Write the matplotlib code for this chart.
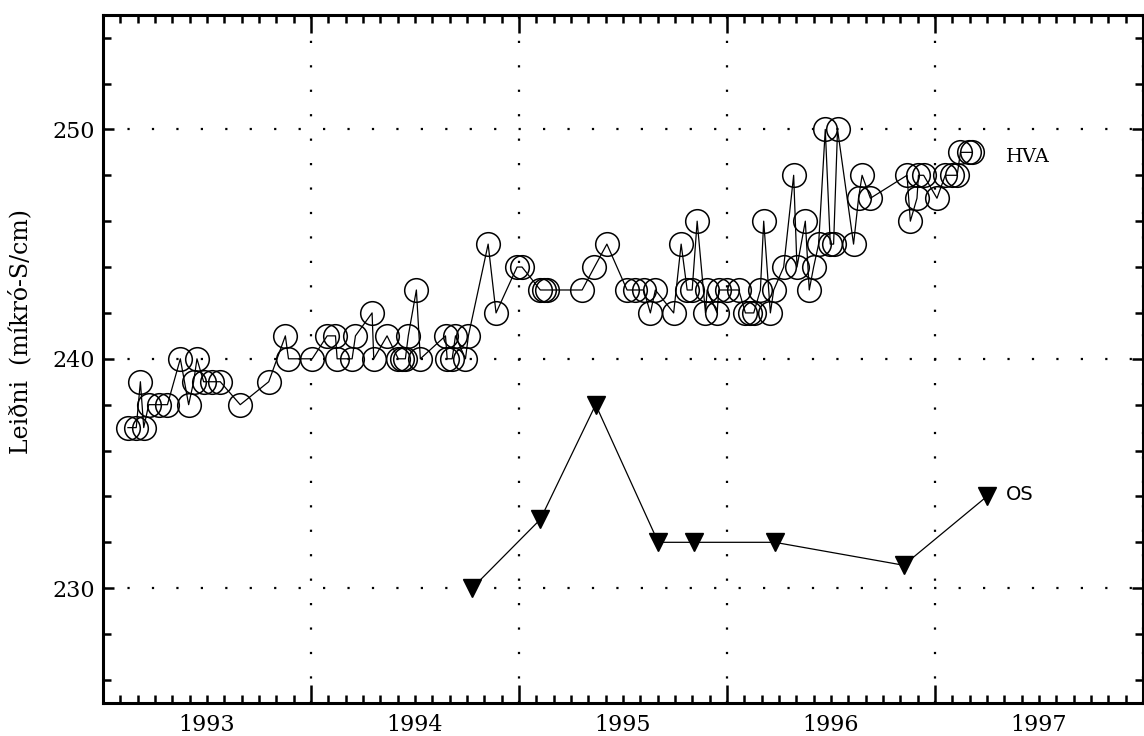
import matplotlib
matplotlib.use('Agg')
import matplotlib.pyplot as plt
from matplotlib.ticker import MultipleLocator

plt.rcParams['font.family'] = 'DejaVu Serif'

# HVA series: pixel-read x positions converted to decimal years
hva_t = [1993.12, 1993.16, 1993.18, 1993.196, 1993.22, 1993.27, 1993.31, 1993.372,
         1993.412, 1993.436, 1993.452, 1993.484, 1993.524, 1993.564, 1993.66, 1993.797,
         1993.877, 1993.892, 1994.006, 1994.078, 1994.118, 1994.126, 1994.198, 1994.214,
         1994.294, 1994.302, 1994.366, 1994.42, 1994.438, 1994.454, 1994.468, 1994.507,
         1994.526, 1994.647, 1994.655, 1994.679, 1994.695, 1994.743, 1994.757, 1994.852,
         1994.89, 1994.991, 1995.015, 1995.103, 1995.119, 1995.135, 1995.304, 1995.363,
         1995.423, 1995.52, 1995.56, 1995.6, 1995.632, 1995.656, 1995.744, 1995.78,
         1995.809, 1995.833, 1995.857, 1995.897, 1995.905, 1995.953, 1995.961, 1996.001,
         1996.057, 1996.089, 1996.113, 1996.129, 1996.161, 1996.177, 1996.209, 1996.225,
         1996.273, 1996.321, 1996.337, 1996.377, 1996.396, 1996.417, 1996.441, 1996.473,
         1996.497, 1996.513, 1996.532, 1996.609, 1996.633, 1996.65, 1996.69, 1996.866,
         1996.882, 1996.914, 1996.921, 1996.946, 1997.01, 1997.05, 1997.083, 1997.107,
         1997.123, 1997.163, 1997.179]
hva_v = [237, 237, 239, 237, 238, 238, 238, 240,
         238, 239, 240, 239, 239, 239, 238, 239,
         241, 240, 240, 241, 241, 240, 240, 241,
         242, 240, 241, 240, 240, 240, 241, 243,
         240, 241, 240, 240, 241, 240, 241, 245,
         242, 244, 244, 243, 243, 243, 243, 244,
         245, 243, 243, 243, 242, 243, 242, 245,
         243, 243, 246, 242, 243, 242, 243, 243,
         243, 242, 242, 242, 243, 246, 242, 243,
         244, 248, 244, 246, 243, 244, 245, 250,
         245, 245, 250, 245, 247, 248, 247, 248,
         246, 247, 248, 248, 247, 248, 248, 248,
         249, 249, 249]

os_t = [1994.775, 1995.103, 1995.369, 1995.67, 1995.84, 1996.23, 1996.85, 1997.25]
os_v = [230, 233, 238, 232, 232, 232, 231, 234]

years = [1993, 1994, 1995, 1996, 1997]

fig = plt.figure(figsize=(11.44, 7.36), dpi=100)
ax = fig.add_axes([0.090, 0.045, 0.909, 0.935])

ax.plot(hva_t, hva_v, color='black', lw=0.9, marker='o', ms=17, mfc='none',
        mec='black', mew=1.1)
ax.plot(os_t, os_v, color='black', lw=0.9, marker='v', ms=13, mfc='black', mec='black')

ax.text(1997.34, 248.8, 'HVA', fontsize=14, va='center', ha='left')
ax.text(1997.34, 234.1, 'OS', fontsize=14, va='center', ha='left', family='DejaVu Sans')

ax.set_xlim(1993, 1998)
ax.set_ylim(225, 255)

ax.xaxis.set_major_locator(MultipleLocator(1))
ax.xaxis.set_minor_locator(MultipleLocator(1 / 12))
ax.yaxis.set_major_locator(MultipleLocator(10))
ax.yaxis.set_minor_locator(MultipleLocator(2))
ax.tick_params(which='both', direction='in', top=True, right=True, width=1.8)
ax.tick_params(axis='x', which='major', length=13, labelbottom=False)
ax.tick_params(axis='x', which='minor', length=6)
ax.tick_params(axis='y', which='major', length=8, labelsize=16, pad=6)
ax.tick_params(axis='y', which='minor', length=6)

sec = ax.secondary_xaxis('bottom')
sec.set_xticks([y + 0.5 for y in years], [str(y) for y in years])
sec.tick_params(length=0, labelsize=16, pad=8)
sec.spines['bottom'].set_visible(False)

for s in ax.spines.values():
    s.set_linewidth(2.2)

ax.grid(True, which='major', color='black', linestyle=(0, (1, 10)), linewidth=1.6)

ax.set_ylabel('Leiðni  (míkró-S/cm)', fontsize=17)
ax.yaxis.set_label_coords(-0.068, 0.54)

fig.savefig('out.png', dpi=100)
